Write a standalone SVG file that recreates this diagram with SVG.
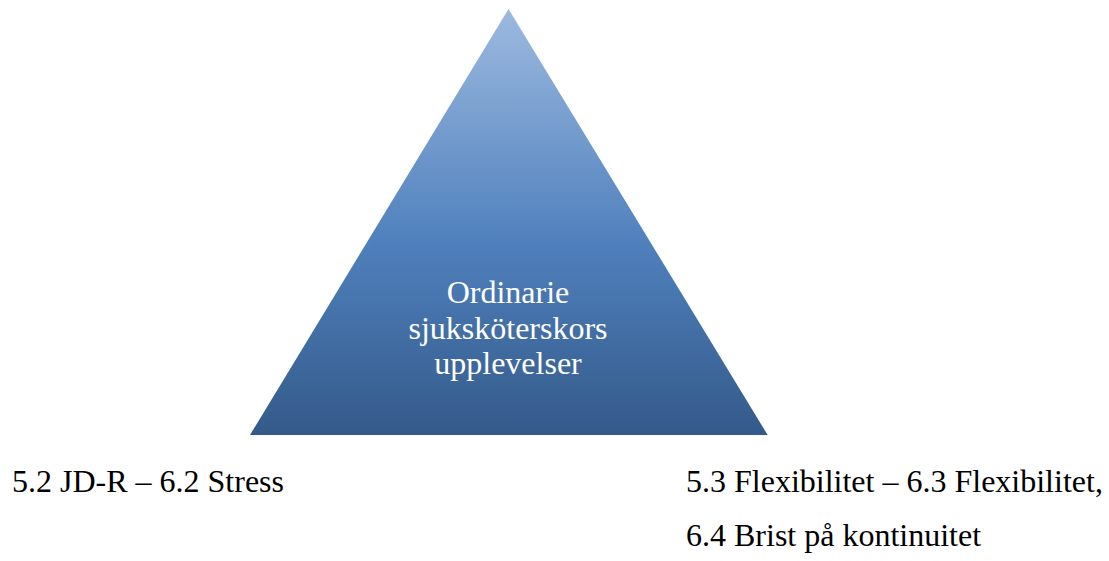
<svg xmlns="http://www.w3.org/2000/svg" width="1109" height="561" viewBox="0 0 1109 561">
<defs>
<linearGradient id="g" x1="0" y1="0" x2="0" y2="1">
<stop offset="0" stop-color="#9dbadf"/>
<stop offset="0.55" stop-color="#4f80bd"/>
<stop offset="1" stop-color="#345a89"/>
</linearGradient>
<style>
.lbl{font-family:"Liberation Serif","Times New Roman",serif;font-size:32px;fill:#000000}
.inner{font-family:"Liberation Serif","Times New Roman",serif;font-size:32px;fill:#ffffff;text-anchor:middle}
</style>
</defs>
<rect width="1109" height="561" fill="#fff"/>
<g id="triangle">
<polygon points="508.5,9 767.7,435 250,435" fill="url(#g)"/>
<text class="inner" x="508" y="303">Ordinarie</text>
<text class="inner" x="508" y="338.5">sjuksköterskors</text>
<text class="inner" x="508" y="374">upplevelser</text>
</g>
<g id="left-label">
<text class="lbl" x="12" y="492">5.2 JD-R – 6.2 Stress</text>
</g>
<g id="right-label">
<text class="lbl" x="686" y="492">5.3 Flexibilitet – 6.3 Flexibilitet,</text>
<text class="lbl" x="686" y="546">6.4 Brist på kontinuitet</text>
</g>
<g id="connectors"/>
</svg>
